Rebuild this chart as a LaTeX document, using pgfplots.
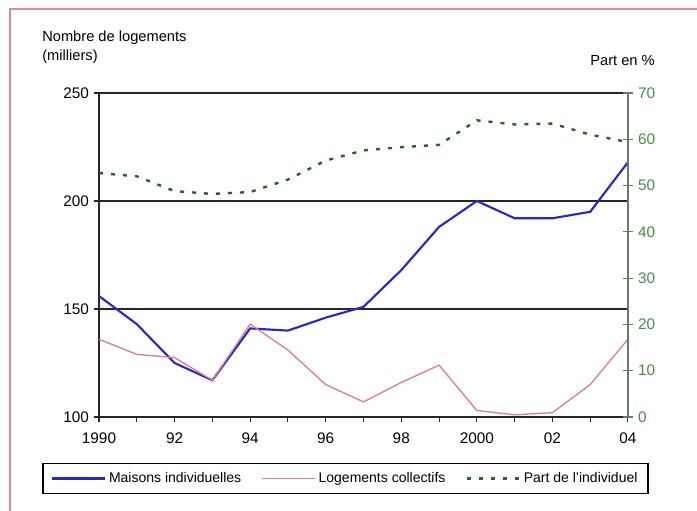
\documentclass[border=0pt]{standalone}
\usepackage{fontspec}
\setmainfont{Liberation Sans}
\usepackage{pgfplots}
\pgfplotsset{compat=1.18}
\definecolor{cblue}{RGB}{40,40,200}
\definecolor{cpink}{RGB}{225,125,135}
\definecolor{cgreen}{RGB}{40,100,40}
\definecolor{cgreentick}{RGB}{70,140,70}
\definecolor{cgreenaxis}{RGB}{100,125,100}
\definecolor{cframe}{RGB}{215,140,150}
\begin{document}
\begin{tikzpicture}
\useasboundingbox (0,0) rectangle (522.75pt,383.25pt);
\draw[cframe, line width=1.2pt] (7.5pt,0) -- (7.5pt,376.5pt) -- (522.75pt,376.5pt);
\node[anchor=west, inner sep=0pt, font=\fontsize{11}{13}\selectfont] at (31.5pt,354.75pt) {Nombre de logements};
\node[anchor=west, inner sep=0pt, font=\fontsize{11}{13}\selectfont] at (31.5pt,340.5pt) {(milliers)};
\node[anchor=east, inner sep=0pt, font=\fontsize{11}{13}\selectfont] at (491.25pt,338.25pt) {Part en \%};

\begin{axis}[
  at={(74.25pt,70.5pt)}, anchor=south west, scale only axis,
  width=396.75pt, height=243pt,
  xmin=1990, xmax=2004, ymin=100, ymax=250,
  axis y line*=left, axis x line*=bottom,
  axis line style={black!85, line width=1pt},
  xtick={1990,...,2004},
  xticklabels={1990,,92,,94,,96,,98,,2000,,02,,04},
  ytick={100,150,200,250},
  ymajorgrids, major grid style={black!85, line width=1pt},
  tick align=outside, major tick length=4pt,
  tick style={black!85, line width=0.8pt},
  ticklabel style={font=\fontsize{11.5}{13}\selectfont},
  xticklabel style={yshift=-4pt},
  /pgf/number format/assume math mode=true,
  legend columns=3,
  legend image code/.code={\draw[#1] (0pt,0pt) -- (40pt,0pt);},
  legend style={at={(0.466,-0.19)}, anchor=center, draw=black, line width=1pt,
    fill=white, font=\fontsize{10.5}{12}\selectfont, inner xsep=6pt, inner ysep=4.5pt,
    /tikz/every even column/.append style={column sep=13pt}},
]
\addplot[cblue, line width=1.6pt] coordinates {
(1990,156) (1991,143) (1992,125) (1993,117) (1994,141) (1995,140) (1996,146)
(1997,151) (1998,168) (1999,188) (2000,200) (2001,192) (2002,192) (2003,195) (2004,218)};
\addlegendentry{Maisons individuelles}
\addplot[cpink, line width=1pt] coordinates {
(1990,136) (1991,129) (1992,127.5) (1993,117) (1994,143) (1995,131) (1996,115)
(1997,107) (1998,116) (1999,124) (2000,103) (2001,101) (2002,102) (2003,115) (2004,136)};
\addlegendentry{Logements collectifs}
\addlegendimage{cgreen, line width=1.8pt, dash pattern=on 3pt off 6pt}
\addlegendentry{Part de l'individuel}
\end{axis}

\begin{axis}[
  at={(74.25pt,70.5pt)}, anchor=south west, scale only axis,
  width=396.75pt, height=243pt,
  xmin=1990, xmax=2004, ymin=0, ymax=70,
  axis y line*=right, axis x line=none,
  axis line style={cgreenaxis, line width=1pt},
  ytick={0,10,...,70},
  tick align=center, major tick length=8pt,
  tick style={cgreenaxis, line width=0.8pt},
  yticklabel style={font=\fontsize{11.5}{13}\selectfont, text=cgreentick},
  /pgf/number format/assume math mode=true,
]
\addplot[cgreen, line width=1.8pt, dash pattern=on 3pt off 6pt] coordinates {
(1990,52.7) (1991,52.0) (1992,48.8) (1993,48.2) (1994,48.6) (1995,51.3) (1996,55.4)
(1997,57.6) (1998,58.3) (1999,58.8) (2000,64.1) (2001,63.2) (2002,63.4) (2003,61.0) (2004,59.4)};
\end{axis}
\end{tikzpicture}
\end{document}
